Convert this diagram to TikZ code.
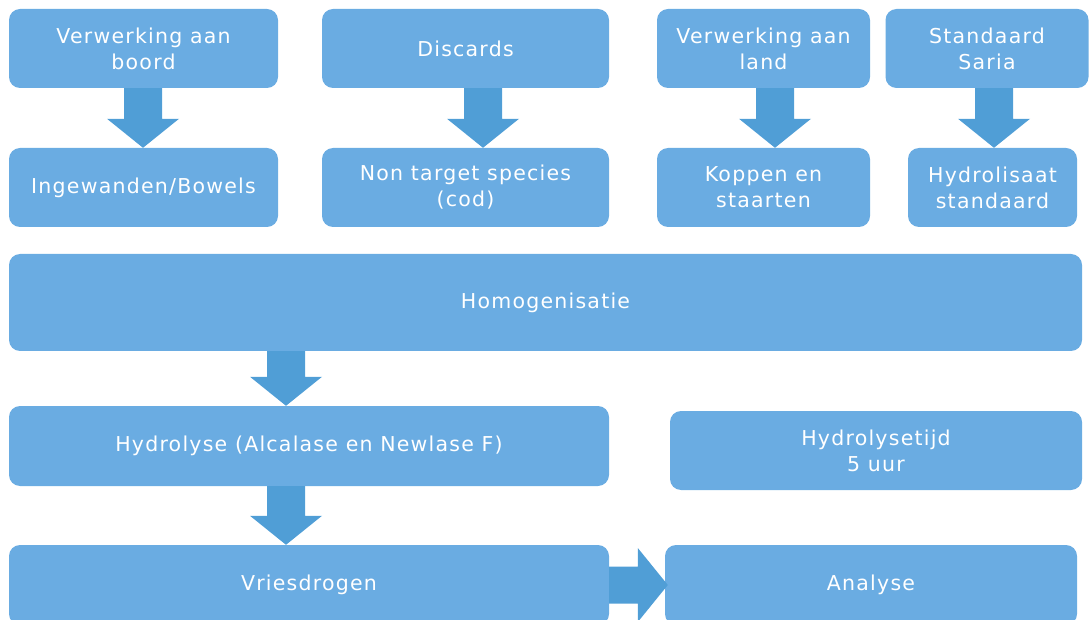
\documentclass[tikz,border=0pt]{standalone}
\usepackage{fontspec}
\newfontfamily\vf[LetterSpace=6]{DejaVu Sans}
\usetikzlibrary{calc}
\definecolor{boxblue}{RGB}{106,172,226}
\definecolor{arrowblue}{RGB}{80,158,214}
\newcommand\dnarrow[3]{%
  \fill[arrowblue] let \p1=(#1.south), \p2=(#2.north) in
   (#3pt-19pt,\y1) -- (#3pt+19pt,\y1) -- (#3pt+19pt,\y2+29pt) -- (#3pt+36pt,\y2+29pt)
   -- (#3pt,\y2) -- (#3pt-36pt,\y2+29pt) -- (#3pt-19pt,\y2+29pt) -- cycle;}
\begin{document}
\begin{tikzpicture}[x=1pt,y=-1pt,
  box/.style={draw=none, fill=boxblue, rounded corners=11pt, inner sep=0pt,
    align=center, text=white, font=\vf\fontsize{20.5}{26}\selectfont}]
\useasboundingbox (0,0) rectangle (1090,620);
\clip (0,0) rectangle (1090,620);
% row 1
\node[box, minimum width=269pt, minimum height=79pt] (A1) at (143.5,48.5) {Verwerking aan\\boord};
\node[box, minimum width=269pt, minimum height=79pt] (A2) at (143.5,187.5) {Ingewanden/Bowels};
\node[box, minimum width=287pt, minimum height=79pt] (B1) at (465.5,48.5) {Discards};
\node[box, minimum width=287pt, minimum height=79pt] (B2) at (465.5,187.5) {Non target species\\(cod)};
\node[box, minimum width=213pt, minimum height=79pt] (C1) at (763.5,48.5) {Verwerking aan\\land};
\node[box, minimum width=213pt, minimum height=79pt] (C2) at (763.5,187.5) {Koppen en\\staarten};
\node[box, minimum width=203pt, minimum height=79pt] (D1) at (987,48.5) {Standaard\\Saria};
\node[box, minimum width=169pt, minimum height=79pt] (D2) at (992.5,187.5) {Hydrolisaat\\standaard};
% row 2
\node[box, minimum width=1073pt, minimum height=97pt] (H) at (545.5,302.5) {Homogenisatie};
\node[box, minimum width=600pt, minimum height=80pt] (Hy) at (309,446) {Hydrolyse (Alcalase en Newlase F)};
\node[box, minimum width=412pt, minimum height=79pt] (T) at (876,450.5) {Hydrolysetijd\\5 uur};
\node[box, minimum width=600pt, minimum height=80pt] (V) at (309,585) {Vriesdrogen};
\node[box, minimum width=412pt, minimum height=80pt] (An) at (871,585) {Analyse};
% arrows
\dnarrow{A1}{A2}{143}
\dnarrow{B1}{B2}{483}
\dnarrow{C1}{C2}{775}
\dnarrow{D1}{D2}{994}
\dnarrow{H}{Hy}{286}
\dnarrow{Hy}{V}{286}
\fill[arrowblue] let \p1=(V.east), \p2=(An.west) in
  (\x1,\y1-18.5pt) -- (\x2-27pt,\y1-18.5pt) -- (\x2-27pt,\y1-37pt) -- (\x2+3pt,\y1)
  -- (\x2-27pt,\y1+37pt) -- (\x2-27pt,\y1+18.5pt) -- (\x1,\y1+18.5pt) -- cycle;
\end{tikzpicture}
\end{document}
